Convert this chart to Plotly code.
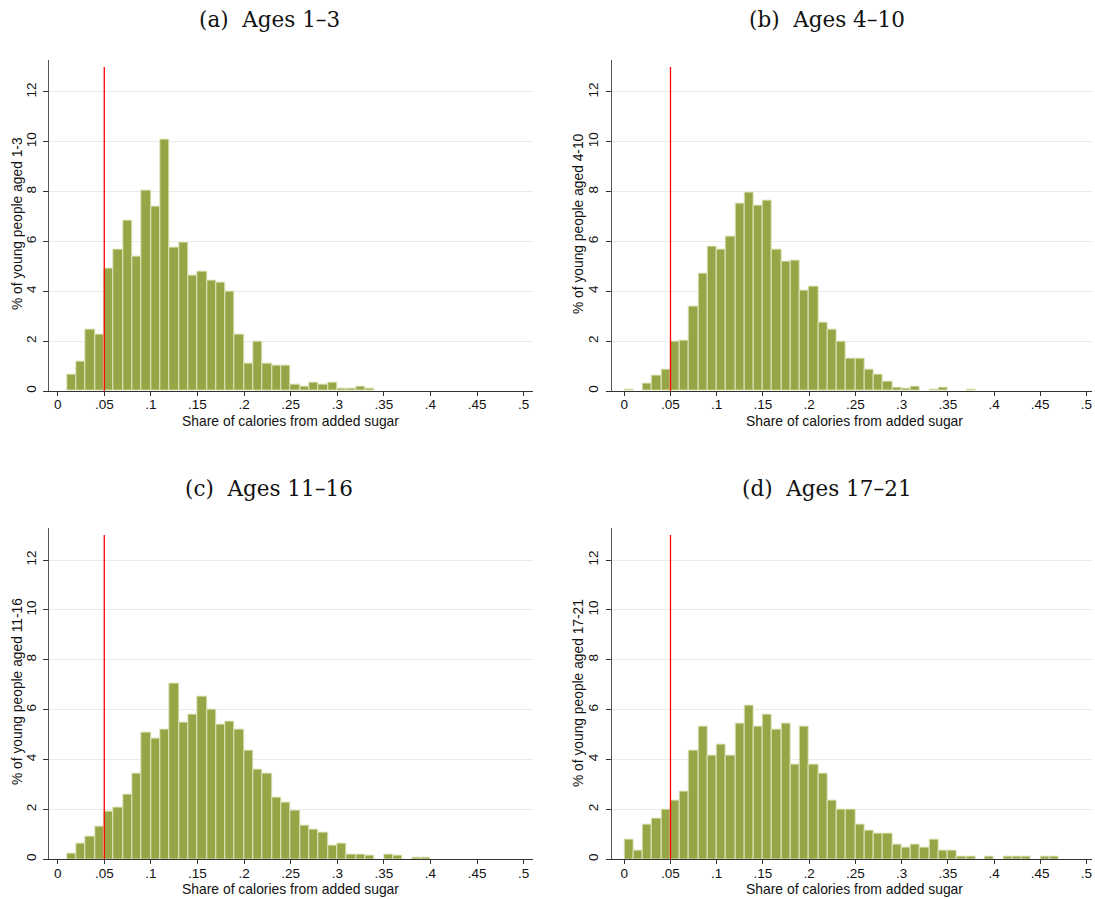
import plotly.graph_objects as go
from plotly.subplots import make_subplots

# ---- data ----
bin_width = 0.01
bin_starts = [round(i * bin_width, 2) for i in range(50)]
threshold = 0.05

pct_1_3 = [0, 0.64, 1.20, 2.45, 2.25, 4.92, 5.68, 6.82, 5.39, 8.06,
           7.39, 10.07, 5.76, 5.96, 4.63, 4.81, 4.45, 4.34, 3.98, 2.25,
           1.11, 1.97, 1.11, 1.02, 1.02, 0.24, 0.16, 0.33, 0.24, 0.33,
           0.08, 0.08, 0.16, 0.08, 0, 0, 0, 0, 0, 0,
           0, 0, 0, 0, 0, 0, 0, 0, 0, 0]
pct_4_10 = [0.07, 0, 0.28, 0.60, 0.86, 1.97, 2.01, 3.40, 4.73, 5.80,
            5.66, 6.20, 7.53, 7.97, 7.45, 7.66, 5.66, 5.21, 5.25, 4.02,
            4.20, 2.73, 2.46, 1.97, 1.30, 1.30, 0.86, 0.64, 0.36, 0.13,
            0.09, 0.19, 0, 0.05, 0.15, 0, 0, 0.05, 0, 0,
            0, 0, 0, 0, 0, 0, 0, 0, 0, 0]
pct_11_16 = [0, 0.24, 0.61, 0.92, 1.30, 1.90, 2.07, 2.59, 3.42, 5.10,
             4.85, 5.21, 7.04, 5.47, 5.79, 6.51, 5.99, 5.41, 5.52, 5.21,
             4.37, 3.58, 3.42, 2.49, 2.27, 1.95, 1.34, 1.18, 1.07, 0.56,
             0.61, 0.19, 0.19, 0.13, 0, 0.19, 0.13, 0, 0.08, 0.08,
             0, 0, 0, 0, 0, 0, 0, 0, 0, 0]
pct_17_21 = [0.80, 0.33, 1.40, 1.64, 1.99, 2.35, 2.70, 4.37, 5.32, 4.14,
             4.61, 4.14, 5.45, 6.17, 5.32, 5.81, 5.21, 5.45, 3.78, 5.32,
             3.78, 3.42, 2.35, 1.99, 1.99, 1.40, 1.16, 1.04, 1.04, 0.57,
             0.45, 0.57, 0.45, 0.80, 0.33, 0.33, 0.09, 0.09, 0, 0.09,
             0, 0.09, 0.09, 0.09, 0, 0.09, 0.09, 0, 0, 0]

panel_titles = ["(a)\u00a0 Ages 1–3", "(b)\u00a0 Ages 4–10",
                "(c)\u00a0 Ages 11–16", "(d)\u00a0 Ages 17–21"]
y_titles = ["% of young people aged 1-3", "% of young people aged 4-10",
            "% of young people aged 11-16", "% of young people aged 17-21"]
x_title = "Share of calories from added sugar"
x_tickvals = [0, 0.05, 0.1, 0.15, 0.2, 0.25, 0.3, 0.35, 0.4, 0.45, 0.5]
x_ticktext = ["0", ".05", ".1", ".15", ".2", ".25", ".3", ".35", ".4", ".45", ".5"]
y_tickvals = [0, 2, 4, 6, 8, 10, 12]

series = [pct_1_3, pct_4_10, pct_11_16, pct_17_21]

# ---- layout geometry (pixels) ----
W, H = 1095, 899
BAR_COLOR = "#96a546"
EDGE_COLOR = "#dfe5bd"
AX_COLOR = "#333333"
SANS = "Liberation Sans, Arial"
SERIF = "DejaVu Serif, Liberation Serif"

fig = make_subplots(rows=2, cols=2)

# per column: (x_left_px, x_right_px, x_range); per row: (y_bottom_px, y_top_px)
col_geo = [(49.3, 533.0, [-0.009, 0.51]), (611.7, 1092.0, [-0.0136, 0.506])]
row_geo = [(391.0, 59.6), (859.3, 527.6)]
y_range = [0, 13.3]

title_pos = [(269, 20), (827, 20), (269, 488), (827, 488)]
xtitle_pos = [(290, 421), (854, 421), (290, 889), (854, 889)]
ytitle_pos = [(17, 224), (578, 224), (17, 692), (578, 693)]

for i, vals in enumerate(series):
    r, c = i // 2 + 1, i % 2 + 1
    xs = [b for b, v in zip(bin_starts, vals) if v > 0]
    ys = [v for v in vals if v > 0]
    fig.add_trace(go.Bar(
        x=xs, y=ys, width=bin_width, offset=0,
        marker=dict(color=BAR_COLOR, line=dict(color=EDGE_COLOR, width=1)),
        hoverinfo="x+y", showlegend=False), row=r, col=c)

    xl, xr, xrange = col_geo[c - 1]
    yb, yt = row_geo[r - 1]
    fig.update_xaxes(row=r, col=c, domain=[xl / W, xr / W], range=xrange,
                     automargin=False,
                     tickvals=x_tickvals, ticktext=x_ticktext,
                     ticks="outside", ticklen=4, tickcolor=AX_COLOR,
                     ticklabelstandoff=-3,
                     showline=True, linecolor=AX_COLOR, linewidth=1,
                     showgrid=False, zeroline=False,
                     tickfont=dict(family=SANS, size=13.5, color="#111"))
    fig.update_yaxes(row=r, col=c, domain=[1 - yb / H, 1 - yt / H], range=y_range,
                     automargin=False,
                     tickvals=y_tickvals, tickangle=-90,
                     ticks="outside", ticklen=5, tickcolor=AX_COLOR,
                     ticklabelstandoff=2,
                     showline=True, linecolor="#555555", linewidth=1,
                     showgrid=True, gridcolor="#eaeaea", gridwidth=1,
                     zeroline=False,
                     tickfont=dict(family=SANS, size=13.5, color="#111"))

    xref = "x" if i == 0 else f"x{i+1}"
    yref = "y" if i == 0 else f"y{i+1}"
    fig.add_shape(type="line", xref=xref, yref=yref, x0=threshold, x1=threshold,
                  y0=0, y1=13, line=dict(color="#ff0000", width=1.3))

    tx, ty = title_pos[i]
    fig.add_annotation(text=panel_titles[i], xref="paper", yref="paper",
                       x=tx / W, y=1 - ty / H, showarrow=False,
                       xanchor="center", yanchor="middle",
                       font=dict(family=SERIF, size=21.5, color="#111"))
    ax_, ay_ = xtitle_pos[i]
    fig.add_annotation(text=x_title, xref="paper", yref="paper",
                       x=ax_ / W, y=1 - ay_ / H, showarrow=False,
                       xanchor="center", yanchor="middle",
                       font=dict(family=SANS, size=13.9, color="#111"))
    yx, yy = ytitle_pos[i]
    fig.add_annotation(text=y_titles[i], xref="paper", yref="paper",
                       x=yx / W, y=1 - yy / H, showarrow=False, textangle=-90,
                       xanchor="center", yanchor="middle",
                       font=dict(family=SANS, size=13.8, color="#111"))

fig.update_layout(width=W, height=H, margin=dict(l=0, r=0, t=0, b=0),
                  paper_bgcolor="white", plot_bgcolor="white",
                  bargap=0, showlegend=False)

fig.write_html("out.html", config={"displayModeBar": False},
               post_script="document.body.style.margin='0';"
                           "document.body.style.overflow='hidden';")
